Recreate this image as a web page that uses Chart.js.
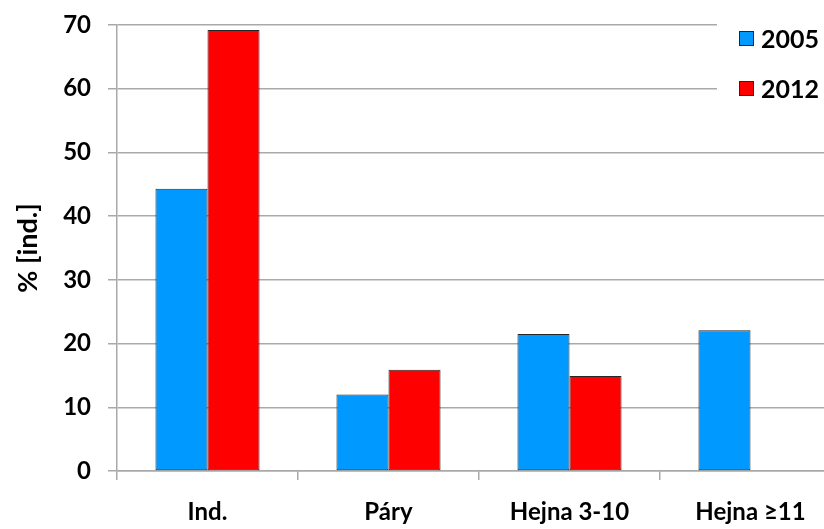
<!DOCTYPE html>
<html>
<head>
<meta charset="utf-8">
<script src="https://cdn.jsdelivr.net/npm/chart.js@4/dist/chart.umd.min.js"></script>
<style>
  html, body { margin: 0; padding: 0; background: #ffffff; overflow: hidden; }
  #wrap { width: 850px; height: 529px; position: relative; }
</style>
</head>
<body>
<div id="wrap"><canvas id="c" width="850" height="529"></canvas></div>
<script>
// Categories and values (% of individuals)
const categories = ['Ind.', 'Páry', 'Hejna 3-10', 'Hejna ≥11'];
const values2005 = [44.3, 12.0, 21.5, 22.1];
const values2012 = [69.2, 15.9, 14.9, null];
const seriesLabels = ['2005', '2012'];
const yTicks = [0, 10, 20, 30, 40, 50, 60, 70];

const FONT = 'Lato, "Open Sans", sans-serif';
const GRID = '#a9a9a9';

// Legend drawn as a white panel over the top-right corner of the plot
const cornerLegend = {
  id: 'cornerLegend',
  afterDraw(chart) {
    const ctx = chart.ctx;
    ctx.save();
    ctx.fillStyle = '#ffffff';
    ctx.fillRect(717, 12, 133, 105);
    ctx.font = 'bold 25px ' + FONT;
    ctx.textBaseline = 'middle';
    chart.data.datasets.forEach((ds, i) => {
      const cy = 39 + i * 50;
      ctx.fillStyle = ds.backgroundColor;
      ctx.fillRect(739.5, cy - 7.5, 14, 14);
      ctx.strokeStyle = ds.borderColor;
      ctx.lineWidth = 1;
      ctx.strokeRect(739.5, cy - 7.5, 14, 14);
      ctx.fillStyle = '#000000';
      ctx.fillText(ds.label, 761, cy + 1);
    });
    ctx.restore();
  }
};

new Chart(document.getElementById('c'), {
  type: 'bar',
  data: {
    labels: categories,
    datasets: [
      { label: seriesLabels[0], data: values2005, backgroundColor: '#0099ff', borderColor: '#262626', borderWidth: 1, borderSkipped: false },
      { label: seriesLabels[1], data: values2012, backgroundColor: '#ff0000', borderColor: '#262626', borderWidth: 1, borderSkipped: false }
    ]
  },
  options: {
    responsive: false,
    animation: false,
    devicePixelRatio: 1,
    layout: { padding: { top: 25, right: 9, left: 0, bottom: 0 } },
    datasets: { bar: { barPercentage: 1.0, categoryPercentage: 0.575 } },
    plugins: { legend: { display: false }, tooltip: { enabled: false } },
    scales: {
      x: {
        offset: true,
        grid: { offset: true, drawOnChartArea: false, drawTicks: true, tickLength: 9, color: GRID, lineWidth: 1.5 },
        border: { color: GRID, width: 1.5 },
        ticks: { color: '#000000', font: { family: FONT, size: 24, weight: 'bold' }, padding: 18, maxRotation: 0 },
        afterFit(scale) { scale.height = 58; }
      },
      y: {
        min: 0, max: 70,
        afterBuildTicks(scale) { scale.ticks = yTicks.map(v => ({ value: v })); },
        grid: { color: GRID, lineWidth: 1.5, tickLength: 9 },
        border: { color: GRID, width: 1.5 },
        ticks: { color: '#000000', font: { family: FONT, size: 24, weight: 'bold' }, padding: 17 },
        title: { display: true, text: '% [ind.]', color: '#000000', font: { family: FONT, size: 27, weight: 'bold' }, padding: { top: 12, bottom: 0 } },
        afterFit(scale) {
          scale.width = 117;
          scale.paddingTop = 0;
          scale.paddingBottom = 0;
        }
      }
    }
  },
  plugins: [cornerLegend]
});
</script>
</body>
</html>
